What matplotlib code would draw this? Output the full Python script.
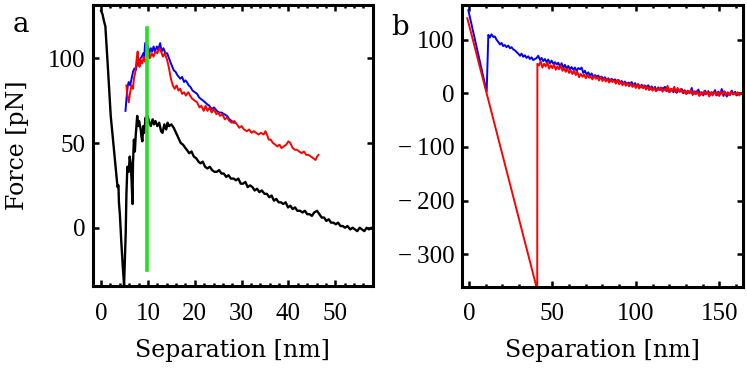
import numpy as np
import matplotlib
matplotlib.use("Agg")
import matplotlib.pyplot as plt
from matplotlib.ticker import MultipleLocator, FixedLocator

plt.rcParams["font.family"] = ["DejaVu Serif"]

# ---------------- panel a data (separation nm, force pN) ----------------
a_black = [
    (0.0, 128), (0.3, 126), (0.6, 122), (0.9, 119), (1.5, 92), (2.05, 66), (2.6, 50),
    (3.1, 36), (3.5, 24), (3.7, 25), (3.8, 15), (4.0, 8), (4.3, -8), (4.6, -22),
    (4.9, -34), (5.1, -15), (5.25, -3), (5.4, 20), (5.6, 36), (5.9, 33), (6.1, 42),
    (6.3, 38), (6.5, 28), (6.7, 14), (6.8, 38), (7.0, 52), (7.2, 45), (7.4, 55),
    (7.7, 66), (7.9, 60), (8.1, 63), (8.45, 58), (8.6, 54), (8.8, 51), (9.0, 60),
    (9.2, 56), (9.5, 65), (9.7, 60), (9.9, 66), (10.2, 63), (10.6, 60), (11.0, 64),
    (11.3, 61), (11.6, 63), (12.0, 60), (12.4, 62), (12.8, 57), (13.1, 56), (13.5, 61),
    (13.9, 58), (14.2, 62), (14.5, 60), (15.0, 61), (15.5, 59), (16.0, 56), (16.5, 53),
    (17.0, 50), (17.5, 49), (18.0, 47), (18.3, 46), (18.8, 44), (19.3, 45), (19.8, 42),
    (20.3, 41), (20.8, 39), (21.2, 38), (21.7, 39), (22.2, 36), (22.7, 35), (23.2, 36),
    (23.7, 34), (24.2, 33), (24.7, 33), (25.2, 34), (25.7, 32), (26.2, 32), (26.7, 30),
    (27.2, 31), (27.7, 29), (28.3, 29), (28.8, 28), (29.3, 29), (29.8, 26), (30.3, 26),
    (30.8, 27), (31.3, 24), (31.8, 25), (32.3, 24), (32.8, 22), (33.3, 23), (33.8, 21),
    (34.3, 22), (34.9, 20), (35.4, 20), (35.9, 18), (36.4, 19), (36.9, 16), (37.4, 17),
    (37.9, 15), (38.4, 15), (38.9, 14), (39.4, 15), (39.9, 12), (40.4, 13), (40.9, 11),
    (41.4, 12), (41.9, 10), (42.5, 10), (43.0, 9), (43.5, 10), (44.0, 8), (44.5, 8),
    (45.0, 7), (45.5, 9), (46.1, 10), (46.6, 8), (47.1, 6), (47.6, 6), (48.1, 4),
    (48.6, 5), (49.1, 3), (49.6, 3), (50.1, 2), (50.6, 3), (51.1, 1), (51.6, 1),
    (52.1, 0), (52.6, 1), (53.2, -1), (53.7, 0), (54.2, -1), (54.7, -2), (55.2, 0),
    (55.7, -1), (56.2, -2), (56.7, 0), (57.2, -1), (57.7, 0), (58.0, -1),
]

a_blue = [
    (5.2, 69), (5.4, 76), (5.7, 84), (5.9, 86), (6.2, 84), (6.5, 88), (6.8, 92),
    (7.1, 94), (7.4, 93), (7.7, 97), (8.0, 98), (8.4, 100), (8.7, 101), (9.0, 103),
    (9.2, 101), (9.4, 109), (9.7, 104), (10.0, 107), (10.3, 103), (10.6, 106),
    (10.9, 104), (11.2, 107), (11.5, 104), (11.9, 107), (12.2, 105), (12.6, 109),
    (12.9, 104), (13.3, 106), (13.7, 103), (14.1, 103), (14.5, 100), (14.9, 97),
    (15.2, 95), (15.5, 93), (15.9, 92), (16.3, 90), (16.6, 89), (16.9, 88), (17.3, 89),
    (17.7, 86), (18.0, 87), (18.3, 86), (18.7, 84), (19.1, 83), (19.5, 81), (20.0, 80),
    (20.5, 79), (20.9, 77), (21.3, 76), (21.8, 75), (22.2, 74), (22.6, 73), (23.1, 72),
    (23.6, 70), (24.1, 71), (24.7, 69), (25.2, 68), (25.7, 68), (26.3, 67), (26.9, 66),
    (27.4, 64), (27.9, 63), (28.3, 62), (28.6, 62),
]

a_red = [
    (5.4, 84), (5.6, 78), (5.9, 74), (6.2, 80), (6.5, 84), (6.8, 82), (7.0, 88),
    (7.3, 92), (7.6, 100), (7.8, 104), (8.0, 97), (8.2, 95), (8.5, 99), (8.8, 97),
    (9.1, 101), (9.4, 98), (9.8, 100), (10.1, 104), (10.4, 100), (10.8, 103),
    (11.2, 101), (11.6, 104), (12.0, 103), (12.4, 106), (12.8, 104), (13.2, 101),
    (13.6, 103), (14.1, 99), (14.5, 94), (14.9, 88), (15.3, 84), (15.7, 82), (16.1, 84),
    (16.5, 81), (16.9, 82), (17.3, 79), (17.7, 80), (18.1, 78), (18.6, 80), (19.0, 78),
    (19.5, 76), (20.0, 75), (20.5, 74), (21.0, 71), (21.4, 72), (21.9, 69), (22.3, 72),
    (22.7, 69), (23.2, 71), (23.6, 68), (24.1, 70), (24.6, 67), (25.0, 68), (25.4, 66),
    (25.9, 67), (26.4, 64), (26.9, 65), (27.4, 63), (27.9, 62), (28.4, 63), (29.0, 61),
    (29.5, 59), (30.0, 60), (30.5, 58), (31.1, 57), (31.6, 58), (32.1, 56), (32.6, 57),
    (33.1, 56), (33.6, 55), (34.1, 56), (34.7, 55), (35.1, 57), (35.4, 55), (35.8, 52),
    (36.2, 52), (36.7, 50), (37.2, 49), (37.6, 48), (38.1, 49), (38.5, 47), (39.0, 48),
    (39.5, 49), (40.0, 51), (40.4, 50), (40.9, 47), (41.4, 46), (41.8, 46), (42.3, 45),
    (42.8, 44), (43.3, 45), (43.8, 43), (44.3, 43), (44.8, 42), (45.3, 41), (45.8, 40),
    (46.1, 42), (46.4, 43),
]

a_green_x = [9.8, 9.8]
a_green_y = [-25, 118]

a_xticks = [0, 10, 20, 30, 40, 50]
a_yticks = [0, 50, 100]

# ---------------- panel b data ----------------
b_blue = [
    (-0.4, 155), (10.6, 3), (11.6, 109), (12.5, 104), (13.5, 110), (14.6, 105),
    (15.5, 106), (16.5, 100), (17.5, 96), (18.6, 91), (19.5, 94), (20.5, 88), (21.5, 90),
    (22.5, 86), (23.5, 89), (24.6, 84), (25.5, 86), (26.5, 82), (27.5, 80), (28.5, 77),
    (29.5, 74), (30.6, 70), (31.5, 74), (32.5, 68), (33.5, 71), (34.5, 66), (35.5, 69),
    (36.5, 64), (37.5, 67), (38.5, 62), (39.5, 64), (40.6, 66), (41.5, 70), (42.6, 62),
    (43.5, 66), (44.5, 60), (45.5, 64), (46.5, 58), (47.5, 63), (48.5, 56), (49.5, 61),
    (50.5, 55), (51.5, 58), (52.6, 54), (53.5, 57), (54.5, 50), (55.5, 56), (56.5, 48),
    (57.5, 53), (58.5, 46), (59.5, 51), (60.5, 45), (61.5, 49), (62.5, 44), (63.5, 48),
    (64.5, 42), (65.5, 47), (66.5, 45), (67.5, 48), (68.5, 38), (69.5, 42), (70.5, 35),
    (71.5, 39), (72.5, 33), (73.5, 37), (74.5, 30), (75.5, 34), (76.6, 31), (77.5, 33),
    (78.5, 28), (79.5, 31), (80.5, 27), (81.5, 30), (82.5, 25), (83.5, 28), (84.5, 23),
    (85.5, 27), (86.5, 24), (87.5, 26), (88.5, 21), (89.5, 25), (90.5, 20), (91.5, 23),
    (92.5, 18), (93.5, 22), (94.5, 17), (95.5, 20), (96.5, 18), (97.5, 21), (98.5, 14),
    (99.5, 19), (100.5, 13), (101.5, 17), (102.5, 11), (103.5, 16), (104.5, 10),
    (105.5, 14), (106.5, 12), (107.5, 15), (108.5, 8), (109.5, 13), (110.5, 7),
    (111.5, 12), (112.5, 5), (113.5, 11), (114.5, 6), (115.5, 10), (116.5, 9),
    (117.5, 12), (118.5, 4), (119.5, 9), (120.5, 3), (121.5, 8), (122.5, 2), (123.5, 7),
    (124.5, 1), (125.5, 6), (126.5, 3), (127.5, 8), (128.5, 0), (129.5, 5), (130.5, -1),
    (131.5, 4), (132.5, 1), (133.5, 10), (134.5, -2), (135.5, 3), (136.5, 3), (137.5, 7),
    (138.5, -3), (139.5, 2), (140.5, -4), (141.5, 5), (142.5, -1), (143.5, 4),
    (144.5, -3), (145.5, 2), (146.5, 0), (147.5, 6), (148.5, -4), (149.5, 3),
    (150.5, -2), (151.5, 8), (152.5, -5), (153.5, 2), (154.5, -6), (155.5, 1),
    (156.5, -3), (157.5, 5), (158.5, -2), (159.5, 3), (160.5, -4), (161.5, 0),
]

b_red = [
    (-1.0, 140), (40.2, -358), (40.9, -358), (41.0, 55), (42, 52), (43, 60), (44, 48),
    (45, 55), (46, 50), (47, 58), (48, 46), (49, 52), (50, 47), (51, 54), (52, 44),
    (53, 50), (54, 45), (55, 52), (56, 42), (57, 47), (58, 40), (59, 46), (60, 38),
    (61, 43), (62, 36), (63, 42), (64, 34), (65, 40), (66, 30), (67, 36), (68, 31),
    (69, 35), (70, 28), (71, 34), (72, 29), (73, 31), (74, 26), (75, 33), (76, 27),
    (77, 30), (78, 24), (79, 31), (80, 23), (81, 28), (82, 22), (83, 27), (84, 20),
    (85, 26), (86, 21), (87, 24), (88, 18), (89, 25), (90, 17), (91, 22), (92, 15),
    (93, 20), (94, 14), (95, 19), (96, 13), (97, 18), (98, 12), (99, 16), (100, 10),
    (101, 17), (102, 9), (103, 14), (104, 10), (105, 15), (106, 7), (107, 12), (108, 6),
    (109, 11), (110, 5), (111, 10), (112, 4), (113, 9), (114, 6), (115, 11), (116, 3),
    (117, 8), (118, 5), (119, 14), (120, 2), (121, 8), (122, 4), (123, 12), (124, 2),
    (125, 10), (126, 3), (127, 8), (128, 1), (129, 6), (130, -1), (131, 5), (132, 0),
    (133, 6), (134, -3), (135, 4), (136, -2), (137, 3), (138, -5), (139, 2), (140, -3),
    (141, 4), (142, -2), (143, 3), (144, -6), (145, 2), (146, -4), (147, 3), (148, -3),
    (149, 2), (150, -5), (151, 3), (152, -2), (153, 4), (154, -3), (155, 2), (156, -4),
    (157, 3), (158, -2), (159, 1), (160, -3), (161, 2), (162, -4), (163, 0),
]

b_xticks = [0, 50, 100, 150]
b_yticks = [-300, -200, -100, 0, 100]

TICK_FONT = ["Liberation Serif", "DejaVu Serif"]


def style_axes(ax, xticks, yticks, xminor):
    for sp in ax.spines.values():
        sp.set_linewidth(2.2)
    ax.xaxis.set_major_locator(FixedLocator(xticks))
    ax.yaxis.set_major_locator(FixedLocator(yticks))
    ax.xaxis.set_minor_locator(MultipleLocator(xminor))
    ax.set_xticklabels([str(t) for t in xticks], family=TICK_FONT, fontsize=18)
    ax.set_yticklabels([str(t).replace("-", "\u2212\u2009") for t in yticks],
                       family=TICK_FONT, fontsize=18)
    ax.tick_params(which="both", direction="in", top=True, right=True, width=1.8)
    ax.tick_params(which="major", length=4)
    ax.tick_params(which="minor", length=2.5)
    ax.tick_params(axis="x", pad=12)
    ax.tick_params(axis="y", pad=5)
    ax.set_xlabel("Separation [nm]", fontsize=17, labelpad=10)


fig = plt.figure(figsize=(7.47, 3.72), dpi=100)
ax1 = fig.add_axes([0.1241, 0.2312, 0.3749, 0.7554])
ax2 = fig.add_axes([0.618, 0.229, 0.377, 0.7576])

bx, by = np.array(a_black).T
ax1.plot(bx, by, color="black", lw=1.7)
ux, uy = np.array(a_blue).T
ax1.plot(ux, uy, color="blue", lw=1.4)
rx, ry = np.array(a_red).T
ax1.plot(rx, ry, color="red", lw=1.4)
ax1.plot(a_green_x, a_green_y, color="#22e022", lw=2.6)
ax1.set_xlim(-1.8, 58)
ax1.set_ylim(-34.4, 131.5)
style_axes(ax1, a_xticks, a_yticks, 2)
ax1.set_ylabel("Force [pN]", fontsize=17, labelpad=14)

ux, uy = np.array(b_blue).T
ax2.plot(ux, uy, color="blue", lw=1.4)
rx, ry = np.array(b_red).T
ax2.plot(rx, ry, color="red", lw=1.4)
ax2.set_xlim(-4.4, 164.4)
ax2.set_ylim(-360.8, 164.7)
style_axes(ax2, b_xticks, b_yticks, 10)

fig.text(0.028, 0.933, "a", fontsize=20, ha="center", va="center")
fig.text(0.535, 0.925, "b", fontsize=20, ha="center", va="center")

fig.savefig("out.png", dpi=100)
